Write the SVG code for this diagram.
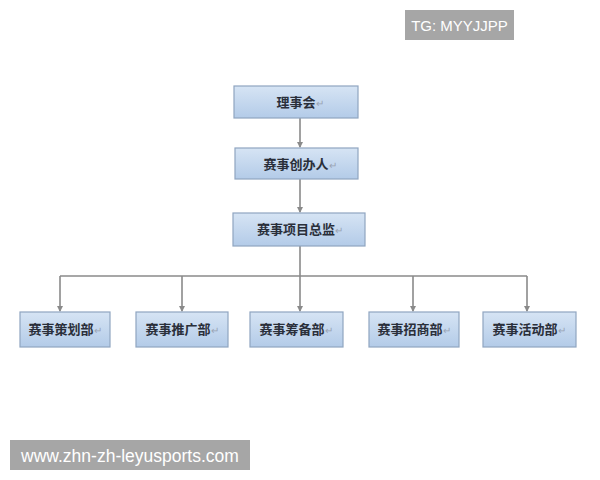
<svg xmlns="http://www.w3.org/2000/svg" width="600" height="480" viewBox="0 0 600 480">
<style>
.box{fill:url(#g);stroke:#8fa5c0;stroke-width:1.2}
.lbl{font-family:"Noto Sans CJK SC","Noto Sans",sans-serif;font-size:13px;font-weight:bold;fill:#2a2f3a;text-anchor:middle}
.rm{fill:#9aa4b4;font-weight:normal;font-size:10px}
.ln{fill:none;stroke:#8a8a8a;stroke-width:1.6}
.wm{font-family:"Liberation Sans",Arial,sans-serif;fill:#ffffff}
</style>
<defs>
<linearGradient id="g" x1="0" y1="0" x2="0" y2="1">
<stop offset="0" stop-color="#d6e4f4"/>
<stop offset="1" stop-color="#b3cbe8"/>
</linearGradient>
<marker id="ah" viewBox="0 0 6 6" refX="5" refY="3" markerWidth="4" markerHeight="4" orient="auto">
<path d="M0,0 L6,3 L0,6 z" fill="#8a8a8a"/>
</marker>
</defs>
<rect width="600" height="480" fill="#ffffff"/>
<g id="connectors">
<path class="ln" d="M300,118 V147" marker-end="url(#ah)"/>
<path class="ln" d="M300,179 V212" marker-end="url(#ah)"/>
<path class="ln" d="M300,246 V276"/>
<path class="ln" d="M60,276 H527"/>
<path class="ln" d="M60,276 V311" marker-end="url(#ah)"/>
<path class="ln" d="M182,276 V311" marker-end="url(#ah)"/>
<path class="ln" d="M300,276 V311" marker-end="url(#ah)"/>
<path class="ln" d="M413,276 V311" marker-end="url(#ah)"/>
<path class="ln" d="M527,276 V311" marker-end="url(#ah)"/>
</g>
<g id="n1"><rect class="box" x="234" y="86" width="124" height="32"/><text class="lbl" x="300" y="107">理事会<tspan class="rm">↵</tspan></text></g>
<g id="n2"><rect class="box" x="235" y="148" width="123" height="31"/><text class="lbl" x="300" y="168.5">赛事创办人<tspan class="rm">↵</tspan></text></g>
<g id="n3"><rect class="box" x="233" y="213" width="132" height="33"/><text class="lbl" x="300" y="234">赛事项目总监<tspan class="rm">↵</tspan></text></g>
<g id="n4"><rect class="box" x="20" y="312" width="90" height="35"/><text class="lbl" x="65" y="334">赛事策划部<tspan class="rm">↵</tspan></text></g>
<g id="n5"><rect class="box" x="136" y="312" width="92" height="35"/><text class="lbl" x="182" y="334">赛事推广部<tspan class="rm">↵</tspan></text></g>
<g id="n6"><rect class="box" x="250" y="312" width="93" height="35"/><text class="lbl" x="296" y="334">赛事筹备部<tspan class="rm">↵</tspan></text></g>
<g id="n7"><rect class="box" x="369" y="312" width="90" height="35"/><text class="lbl" x="414" y="334">赛事招商部<tspan class="rm">↵</tspan></text></g>
<g id="n8"><rect class="box" x="483" y="312" width="93" height="35"/><text class="lbl" x="529" y="334">赛事活动部<tspan class="rm">↵</tspan></text></g>
<g id="wm1"><rect x="405" y="10" width="109" height="30" fill="#a6a6a6"/><text class="wm" x="459.5" y="30.5" font-size="15" text-anchor="middle">TG: MYYJJPP</text></g>
<g id="wm2"><rect x="10" y="440" width="240" height="30" fill="#a6a6a6"/><text class="wm" x="130" y="461.5" font-size="17.5" text-anchor="middle">www.zhn-zh-leyusports.com</text></g>
</svg>
